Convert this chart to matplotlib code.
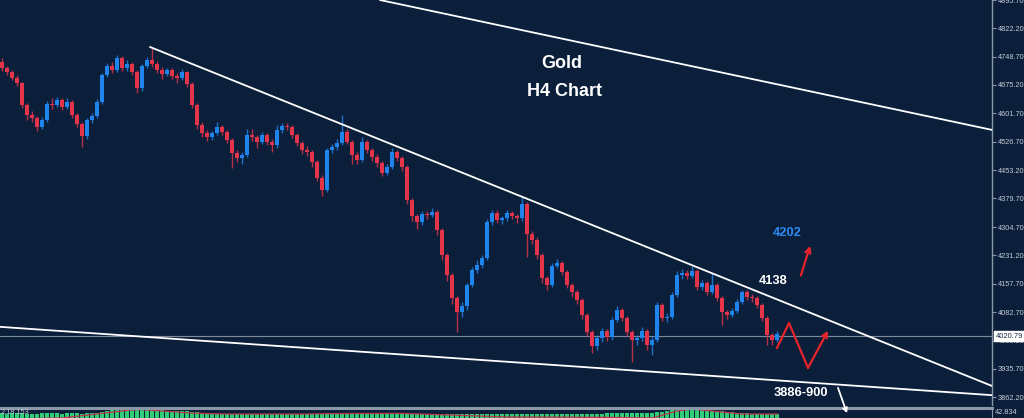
import matplotlib
matplotlib.use("Agg")
import matplotlib.pyplot as plt
import numpy as np
from matplotlib.transforms import blended_transform_factory

plt.rcParams['font.family'] = ['Liberation Sans', 'DejaVu Sans']

# ---------------- data (Gold H4 candles) ----------------
opens = [4735,4719,4709,4693,4680,4623,4597,4589,4566,4584,
         4626,4623,4636,4618,4631,4597,4573,4542,4584,4594,
         4631,4701,4724,4714,4745,4719,4730,4709,4667,4724,
         4740,4730,4714,4704,4714,4698,4693,4709,4678,4623,
         4571,4550,4540,4550,4566,4553,4532,4498,4485,4493,
         4545,4540,4527,4545,4527,4519,4558,4568,4566,4545,
         4524,4506,4500,4474,4433,4401,4506,4514,4524,4553,
         4527,4493,4480,4527,4506,4487,4472,4446,4461,4500,
         4485,4461,4375,4334,4318,4339,4336,4344,4297,4232,
         4180,4120,4084,4099,4154,4193,4206,4224,4318,4342,
         4323,4328,4342,4334,4329,4365,4287,4271,4232,4172,
         4154,4204,4211,4188,4154,4136,4115,4076,4032,3995,
         4016,4034,4019,4063,4089,4068,4032,4011,4016,4034,
         3998,4011,4102,4068,4071,4128,4180,4185,4178,4190,
         4149,4160,4136,4154,4120,4084,4076,4086,4110,4136,
         4123,4120,4102,4068,4024,4011]
closes = [4719,4709,4693,4680,4623,4597,4589,4566,4584,4626,
          4623,4636,4618,4631,4597,4573,4542,4584,4594,4631,
          4701,4724,4714,4745,4719,4730,4709,4667,4724,4740,
          4730,4714,4704,4714,4698,4693,4709,4678,4623,4571,
          4550,4540,4550,4566,4553,4532,4498,4485,4493,4545,
          4540,4527,4545,4527,4519,4558,4568,4566,4545,4524,
          4506,4500,4474,4433,4401,4506,4514,4524,4553,4527,
          4493,4480,4527,4506,4487,4472,4446,4461,4500,4485,
          4461,4375,4334,4318,4339,4336,4344,4297,4232,4180,
          4120,4084,4099,4154,4193,4206,4224,4318,4342,4323,
          4328,4342,4334,4329,4365,4287,4271,4232,4172,4154,
          4204,4211,4188,4154,4136,4115,4076,4032,3995,4016,
          4034,4019,4063,4089,4068,4032,4011,4016,4034,3998,
          4011,4102,4068,4071,4128,4180,4185,4178,4190,4149,
          4160,4136,4154,4120,4084,4076,4086,4110,4136,4123,
          4120,4102,4068,4024,4011,4026]
highs = [4745,4725,4714,4700,4684,4628,4608,4594,4592,4632,
         4640,4645,4642,4640,4636,4602,4578,4590,4602,4638,
         4706,4732,4735,4752,4750,4740,4736,4714,4730,4748,
         4774,4738,4722,4720,4720,4706,4716,4712,4682,4628,
         4578,4558,4556,4578,4572,4558,4536,4505,4500,4560,
         4560,4546,4552,4550,4535,4570,4576,4576,4570,4550,
         4530,4515,4505,4480,4440,4512,4522,4535,4597,4560,
         4532,4500,4540,4532,4512,4495,4478,4470,4512,4505,
         4490,4466,4380,4340,4348,4346,4355,4350,4302,4238,
         4185,4126,4110,4160,4200,4218,4232,4325,4350,4350,
         4335,4350,4348,4340,4383,4370,4295,4278,4238,4178,
         4212,4222,4216,4192,4160,4142,4120,4082,4036,4025,
         4042,4040,4070,4098,4094,4072,4038,4025,4045,4040,
         4020,4110,4108,4080,4135,4190,4195,4192,4206,4195,
         4168,4165,4185,4158,4125,4090,4095,4118,4142,4142,
         4130,4126,4106,4072,4030,4034]
lows = [4712,4700,4688,4672,4615,4585,4578,4555,4560,4578,
        4612,4618,4610,4612,4590,4565,4514,4535,4575,4588,
        4625,4695,4705,4708,4712,4712,4700,4655,4660,4718,
        4722,4706,4690,4698,4690,4680,4688,4670,4615,4560,
        4540,4528,4532,4545,4545,4525,4460,4475,4470,4488,
        4530,4512,4520,4518,4500,4512,4550,4558,4538,4515,
        4496,4490,4462,4425,4385,4395,4498,4505,4518,4520,
        4470,4468,4475,4498,4478,4462,4438,4440,4455,4476,
        4452,4365,4322,4300,4310,4325,4330,4285,4220,4165,
        4105,4032,4070,4090,4148,4185,4198,4220,4310,4315,
        4312,4322,4326,4316,4322,4227,4262,4222,4160,4142,
        4148,4198,4180,4145,4122,4105,4065,4020,3977,3985,
        4005,4008,4012,4058,4060,4022,3953,3998,4008,3985,
        3972,4005,4060,4058,4065,4122,4170,4170,4172,4140,
        4140,4128,4130,4112,4050,4066,4070,4080,4104,4115,
        4110,4095,4060,3998,3998,4005]

# indicator histogram (lower panel) and its signal line
hist = [20,19,20,21,20,19,18,19,20,20,21,20,19,20,21,20,19,20,21,23,
        27,31,34,36,37,38,38,38,37,36,35,34,33,32,31,30,29,28,26,24,
        21,19,18,18,19,19,18,18,17,18,19,19,18,18,17,18,19,19,18,18,
        18,17,17,16,16,17,18,18,19,19,18,18,18,19,19,18,18,17,18,18,
        17,16,16,16,17,17,17,16,15,15,15,16,16,17,18,18,18,19,19,19,
        19,19,19,19,19,18,18,17,17,17,17,18,18,17,17,17,16,16,16,17,
        19,20,20,21,21,20,20,21,21,21,21,24,27,30,33,36,38,38,38,37,
        36,34,32,30,28,26,24,22,21,20,19,19,18,18,17,17]
signal_idx = [0, 12, 22, 26, 28, 38, 45, 60, 66, 80, 100, 120, 130, 135, 138, 142, 148, 155]
signal_val = [-5, 0, 25, 35, 36, 21, 17, 17, 19, 20, 5, 3, 0, 30, 38, 30, 17, 17]

# price ticks on right axis
price_ticks = [4895.70, 4822.20, 4748.70, 4675.20, 4601.70, 4526.70, 4453.20,
               4379.70, 4304.70, 4231.20, 4157.70, 4082.70, 4009.20, 3935.70, 3862.20]
current_price = 4020.79

# analyst drawings (candle index, price)
top_line = [(75.6, 4896.4), (198.0, 4558.0)]
down_trend = [(29.6, 4774.0), (198.0, 3891.0)]
lower_line = [(-0.4, 4045.0), (198.0, 3867.0)]
arrow_up = [(159.6, 4172.0), (161.8, 4263.0)]
zigzag = [(155.0, 3990.0), (157.4, 4055.0), (161.2, 3938.0), (165.2, 4035.0)]
arrow_down = [(167.2, 3886.0), (169.0, 3820.0)]
labels = [("4202", 157.0, 4289.0, '#2b8cf4'),
          ("4138", 154.2, 4164.0, 'white'),
          ("3886-900", 159.8, 3873.0, 'white')]

# ---------------- styling ----------------
BG = '#0b1f3b'
AXC = '#8c97a8'
TXT = '#c4cbd6'
BULL = '#1f84ec'
BEAR = '#e3344a'
ARROW_RED = '#e8232b'

W, H = 1024, 418
fig = plt.figure(figsize=(W / 100, H / 100), dpi=100, facecolor=BG)

main_bottom = 1 - 405 / H
ax = fig.add_axes([0, main_bottom, 992 / W, 405 / H])
ax.set_facecolor(BG)
ax.set_zorder(3)
ax.set_xlim(-0.4, 198.0)
ax.set_ylim(3841.4, 4896.4)

idx = np.arange(len(closes))
o = np.array(opens, float)
c = np.array(closes, float)
hi = np.array(highs, float)
lo = np.array(lows, float)
up = c >= o
cols = np.where(up, BULL, BEAR)

ax.vlines(idx, lo, hi, colors=cols, lw=1.0, alpha=0.8, zorder=2)
body_bottom = np.minimum(o, c)
body_h = np.maximum(np.abs(c - o), 1.5)
ax.bar(idx, body_h, bottom=body_bottom, width=0.7, color=cols, edgecolor='none', zorder=3)

# current price line
ax.axhline(current_price, color='#7f8a9a', lw=0.8, zorder=1)

# trend lines
for ln in (top_line, down_trend, lower_line):
    xs, ys = zip(*ln)
    ax.plot(xs, ys, color='white', lw=1.3, solid_capstyle='round', zorder=4)

# arrows
ax.annotate('', xy=arrow_up[1], xytext=arrow_up[0],
            arrowprops=dict(arrowstyle='->', color=ARROW_RED, lw=1.6, mutation_scale=9), zorder=5)
zx, zy = zip(*zigzag)
ax.plot(zx[:-1], zy[:-1], color=ARROW_RED, lw=1.6, zorder=5)
ax.annotate('', xy=zigzag[-1], xytext=zigzag[-2],
            arrowprops=dict(arrowstyle='->', color=ARROW_RED, lw=1.6, mutation_scale=9,
                            shrinkA=0, shrinkB=0), zorder=5)
ax.annotate('', xy=arrow_down[1], xytext=arrow_down[0], annotation_clip=False,
            arrowprops=dict(arrowstyle='->', color='white', lw=1.3, mutation_scale=7,
                            shrinkA=0, shrinkB=0), zorder=6)

for txt, xv, yv, colr in labels:
    ax.text(xv, yv, txt, color=colr, fontsize=9.3, fontweight='bold', ha='center', va='center', zorder=6)

# title
ax.text(0.566, 0.844, "Gold", transform=ax.transAxes, color='white', fontsize=13,
        fontweight='bold', ha='center', va='center')
ax.text(0.569, 0.775, "H4 Chart", transform=ax.transAxes, color='white', fontsize=13,
        fontweight='bold', ha='center', va='center')

# axes cosmetics
for s in ('left', 'top', 'bottom'):
    ax.spines[s].set_visible(False)
ax.spines['right'].set_color(AXC)
ax.spines['right'].set_linewidth(1.0)
ax.set_xticks([])
ax.yaxis.tick_right()
ax.set_yticks(price_ticks)
ax.set_yticklabels([f"{v:.2f}" for v in price_ticks])
ax.tick_params(axis='y', direction='out', length=3, width=0.8, color=AXC,
               labelcolor=TXT, labelsize=5.3, pad=1.0)

# current price tag
trans = blended_transform_factory(ax.transAxes, ax.transData)
ax.text(1.0035, current_price, f"{current_price:.2f}", transform=trans, clip_on=False,
        fontsize=5.5, color='#1b2740', ha='left', va='center', zorder=10,
        bbox=dict(boxstyle='square,pad=0.15', fc='white', ec='white'))

# ---------------- indicator panel ----------------
ax2 = fig.add_axes([0, 0, 992 / W, 10 / H])
ax2.set_facecolor(BG)
ax2.set_xlim(-0.4, 198.0)
ax2.set_ylim(0, 42.834)
ax2.bar(idx, hist, width=0.75, color='#2fcf78', edgecolor='none')
ax2.plot(signal_idx, signal_val, color='#c2304a', lw=0.9)
for s in ('left', 'bottom'):
    ax2.spines[s].set_visible(False)
ax2.spines['top'].set_color(AXC)
ax2.spines['top'].set_linewidth(2.2)
ax2.spines['right'].set_color(AXC)
ax2.set_xticks([])
ax2.set_yticks([])
ax2.text(0.001, 0.5, "2.18.153", transform=ax2.transAxes, color=TXT, fontsize=5.3,
         ha='left', va='center')
fig.text(995 / W, 5 / H, "42.834", color=TXT, fontsize=5.3, ha='left', va='center')

fig.savefig("out.png", dpi=100, facecolor=BG)
